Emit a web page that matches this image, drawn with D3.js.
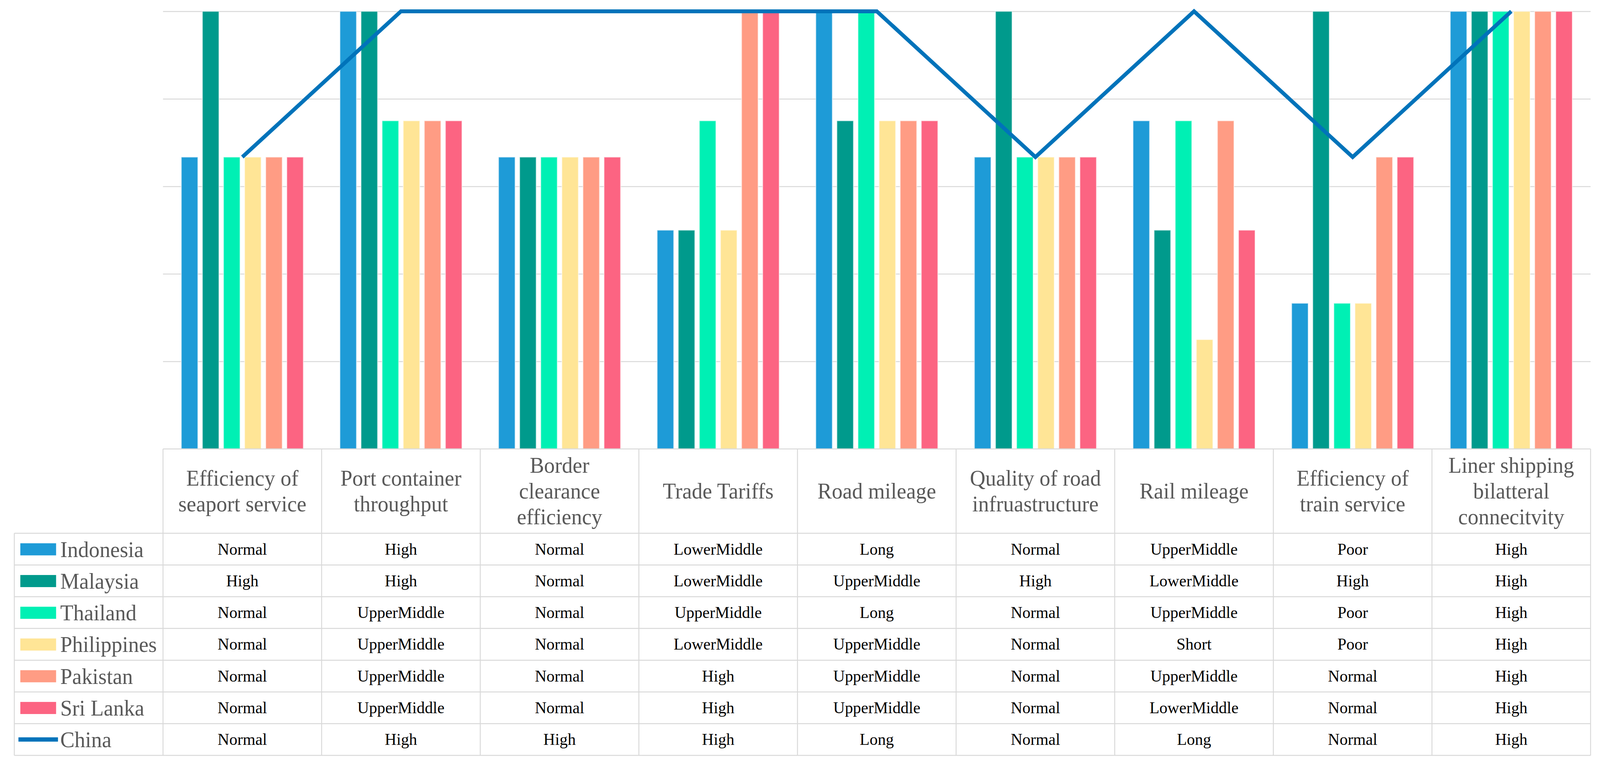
<!DOCTYPE html>
<html>
<head>
<meta charset="utf-8">
<script src="https://cdn.jsdelivr.net/npm/d3@7/dist/d3.min.js"></script>
<style>
  html, body { margin: 0; padding: 0; background: #ffffff; overflow: hidden; width: 100%; height: 100%; }
  svg { display: block; width: 100vw; height: 100vh; }
  text { font-family: "Liberation Serif", "Times New Roman", serif; }
</style>
</head>
<body>
<svg id="chart" viewBox="0 0 4250 1975" preserveAspectRatio="none"></svg>
<script>
// ---------------- DATA ----------------
const categories = [
  "Efficiency of seaport service",
  "Port container throughput",
  "Border clearance efficiency",
  "Trade Tariffs",
  "Road mileage",
  "Quality of road infruastructure",
  "Rail mileage",
  "Efficiency of train service",
  "Liner shipping bilatteral connecitvity"
];
const categoryLines = [
  ["Efficiency of", "seaport service"],
  ["Port container", "throughput"],
  ["Border", "clearance", "efficiency"],
  ["Trade Tariffs"],
  ["Road mileage"],
  ["Quality of road", "infruastructure"],
  ["Rail mileage"],
  ["Efficiency of", "train service"],
  ["Liner shipping", "bilatteral", "connecitvity"]
];

const barSeries = ["Indonesia", "Malaysia", "Thailand", "Philippines", "Pakistan", "Sri Lanka"];
const lineSeries = "China";

const indonesia   = ["Normal", "High", "Normal", "LowerMiddle", "Long", "Normal", "UpperMiddle", "Poor", "High"];
const malaysia    = ["High", "High", "Normal", "LowerMiddle", "UpperMiddle", "High", "LowerMiddle", "High", "High"];
const thailand    = ["Normal", "UpperMiddle", "Normal", "UpperMiddle", "Long", "Normal", "UpperMiddle", "Poor", "High"];
const philippines = ["Normal", "UpperMiddle", "Normal", "LowerMiddle", "UpperMiddle", "Normal", "Short", "Poor", "High"];
const pakistan    = ["Normal", "UpperMiddle", "Normal", "High", "UpperMiddle", "Normal", "UpperMiddle", "Normal", "High"];
const sriLanka    = ["Normal", "UpperMiddle", "Normal", "High", "UpperMiddle", "Normal", "LowerMiddle", "Normal", "High"];
const china       = ["Normal", "High", "High", "High", "Long", "Normal", "Long", "Normal", "High"];

// level labels and the bar height each one is drawn at (share of full scale)
const levelNames  = ["Short", "Poor", "LowerMiddle", "Normal", "UpperMiddle", "High", "Long"];
const levelValues = [0.25, 0.333, 0.5, 0.667, 0.75, 1.0, 1.0];

const gridTicks = [0.2, 0.4, 0.6, 0.8, 1.0];

const barColors = ["#1E9BD7", "#009A8C", "#00F0B4", "#FFE596", "#FF9C84", "#FC6482"];
const lineColor = "#0073BA";

// ---------------- BUILD ----------------
const seriesLabels = { "Indonesia": indonesia, "Malaysia": malaysia, "Thailand": thailand,
  "Philippines": philippines, "Pakistan": pakistan, "Sri Lanka": sriLanka, "China": china };
const levelMap = new Map(levelNames.map((n, i) => [n, levelValues[i]]));
const allSeries = barSeries.concat([lineSeries]);

const svg = d3.select("#chart");
svg.append("rect").attr("width", 4250).attr("height", 1975).attr("fill", "#ffffff");

const plotLeft = 433, plotRight = 4225, plotTop = 29, plotBottom = 1150;
const headerBottom = 1366, tableBottom = 1935, legendLeft = 38;
const gridColor = "#D9D9D9";

const x0 = d3.scaleBand().domain(categories).range([plotLeft, plotRight]);
const x1 = d3.scaleBand().domain(barSeries).range([0, x0.bandwidth()])
  .paddingInner(0.214).paddingOuter(0.866);
const y = d3.scaleLinear().domain([0, 1]).range([plotBottom, plotTop]);
const color = d3.scaleOrdinal().domain(barSeries).range(barColors);

// gridlines
const grid = svg.append("g")
  .attr("transform", `translate(${plotLeft},0)`)
  .call(d3.axisLeft(y).tickValues(gridTicks).tickSize(-(plotRight - plotLeft)).tickFormat(""));
grid.select(".domain").remove();
grid.selectAll(".tick line").attr("stroke", gridColor).attr("stroke-width", 2.5);

// bars
const groups = svg.append("g").selectAll("g")
  .data(categories)
  .join("g")
  .attr("transform", d => `translate(${x0(d)},0)`);

groups.selectAll("rect")
  .data((c, ci) => barSeries.map(s => ({ s, v: levelMap.get(seriesLabels[s][ci]) })))
  .join("rect")
  .attr("x", d => x1(d.s))
  .attr("width", x1.bandwidth())
  .attr("y", d => y(d.v))
  .attr("height", d => y(0) - y(d.v))
  .attr("fill", d => color(d.s))
  .attr("stroke", "#ffffff")
  .attr("stroke-opacity", 0.55)
  .attr("stroke-width", 2.5);

// China line
const lineGen = d3.line()
  .x((d, i) => x0(categories[i]) + x0.bandwidth() / 2)
  .y(d => y(levelMap.get(d)));
svg.append("path")
  .datum(china)
  .attr("d", lineGen)
  .attr("fill", "none")
  .attr("stroke", lineColor)
  .attr("stroke-width", 10)
  .attr("stroke-linejoin", "miter");

// ---------------- DATA TABLE ----------------
const rows = d3.scaleBand().domain(allSeries).range([headerBottom, tableBottom]);
const tg = svg.append("g");

// horizontal borders
tg.append("line").attr("x1", plotLeft).attr("x2", plotRight)
  .attr("y1", plotBottom).attr("y2", plotBottom);
const hY = allSeries.map(s => rows(s)).concat([tableBottom]);
tg.selectAll("line.h").data(hY).join("line").attr("class", "h")
  .attr("x1", legendLeft).attr("x2", plotRight)
  .attr("y1", d => d).attr("y2", d => d);
// vertical borders
const vX = categories.map(c => x0(c)).concat([plotRight]);
tg.selectAll("line.v").data(vX).join("line").attr("class", "v")
  .attr("x1", d => d).attr("x2", d => d)
  .attr("y1", plotBottom).attr("y2", tableBottom);
tg.append("line").attr("x1", legendLeft).attr("x2", legendLeft)
  .attr("y1", headerBottom).attr("y2", tableBottom);
tg.selectAll("line").attr("stroke", gridColor).attr("stroke-width", 2.5);

// header texts
const headerLineH = 66;
const headerMid = (plotBottom + headerBottom) / 2;
tg.selectAll("text.hdr").data(categories).join("text").attr("class", "hdr")
  .attr("x", d => x0(d) + x0.bandwidth() / 2)
  .attr("text-anchor", "middle")
  .attr("font-size", 57)
  .attr("fill", "#595959")
  .each(function (d, i) {
    const lines = categoryLines[i];
    const n = lines.length;
    d3.select(this).selectAll("tspan").data(lines).join("tspan")
      .attr("x", x0(d) + x0.bandwidth() / 2)
      .attr("y", (l, k) => headerMid + 19 + (k - (n - 1) / 2) * headerLineH)
      .text(l => l);
  });

// cell values
allSeries.forEach(s => {
  tg.selectAll(null).data(seriesLabels[s]).join("text")
    .attr("x", (d, i) => x0(categories[i]) + x0.bandwidth() / 2)
    .attr("y", rows(s) + rows.bandwidth() / 2 + 14)
    .attr("text-anchor", "middle")
    .attr("font-size", 43)
    .attr("fill", "#000000")
    .text(d => d);
});

// legend keys in the table
const lg = svg.append("g");
barSeries.forEach(s => {
  lg.append("rect")
    .attr("x", 54).attr("width", 95)
    .attr("y", rows(s) + rows.bandwidth() / 2 - 15).attr("height", 31)
    .attr("fill", color(s));
});
lg.append("line")
  .attr("x1", 49).attr("x2", 154)
  .attr("y1", rows(lineSeries) + rows.bandwidth() / 2)
  .attr("y2", rows(lineSeries) + rows.bandwidth() / 2)
  .attr("stroke", lineColor).attr("stroke-width", 11);
lg.selectAll("text").data(allSeries).join("text")
  .attr("x", 160)
  .attr("y", d => rows(d) + rows.bandwidth() / 2 + 20)
  .attr("font-size", 57)
  .attr("fill", "#595959")
  .text(d => d);
</script>
</body>
</html>
